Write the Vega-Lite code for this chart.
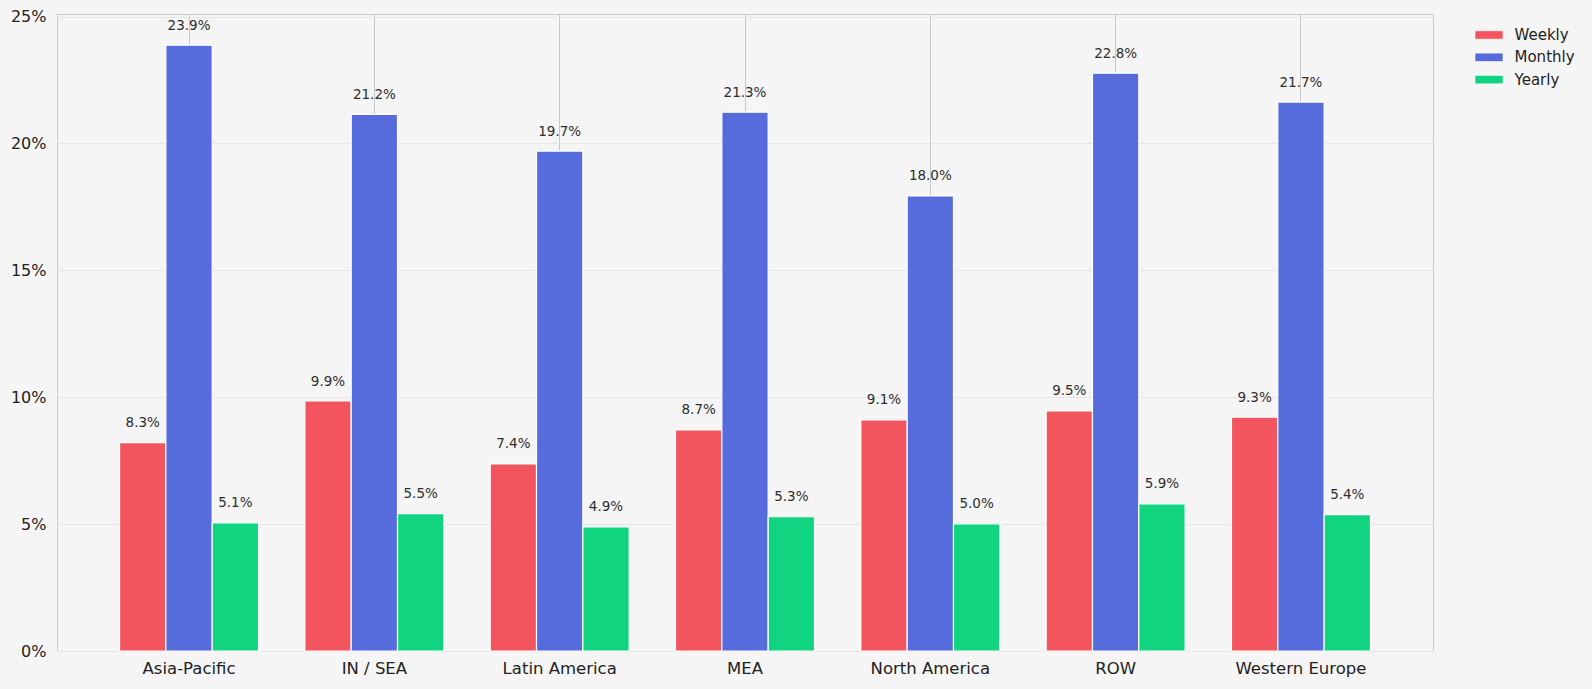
{
  "$schema": "https://vega.github.io/schema/vega-lite/v6.json",
  "width": 1376,
  "height": 637,
  "autosize": "none",
  "padding": {"left": 57, "top": 14, "right": 159, "bottom": 38},
  "background": "#f5f5f5",
  "config": {
    "font": "DejaVu Sans",
    "view": {"stroke": "#cccccc", "strokeWidth": 1}
  },
  "data": {
    "values": [
      {"region": "Asia-Pacific", "plan": "Weekly", "value": 8.21, "label": "8.3%"},
      {"region": "Asia-Pacific", "plan": "Monthly", "value": 23.87, "label": "23.9%"},
      {"region": "Asia-Pacific", "plan": "Yearly", "value": 5.05, "label": "5.1%"},
      {"region": "IN / SEA", "plan": "Weekly", "value": 9.85, "label": "9.9%"},
      {"region": "IN / SEA", "plan": "Monthly", "value": 21.14, "label": "21.2%"},
      {"region": "IN / SEA", "plan": "Yearly", "value": 5.41, "label": "5.5%"},
      {"region": "Latin America", "plan": "Weekly", "value": 7.37, "label": "7.4%"},
      {"region": "Latin America", "plan": "Monthly", "value": 19.7, "label": "19.7%"},
      {"region": "Latin America", "plan": "Yearly", "value": 4.89, "label": "4.9%"},
      {"region": "MEA", "plan": "Weekly", "value": 8.71, "label": "8.7%"},
      {"region": "MEA", "plan": "Monthly", "value": 21.23, "label": "21.3%"},
      {"region": "MEA", "plan": "Yearly", "value": 5.29, "label": "5.3%"},
      {"region": "North America", "plan": "Weekly", "value": 9.11, "label": "9.1%"},
      {"region": "North America", "plan": "Monthly", "value": 17.93, "label": "18.0%"},
      {"region": "North America", "plan": "Yearly", "value": 5.01, "label": "5.0%"},
      {"region": "ROW", "plan": "Weekly", "value": 9.46, "label": "9.5%"},
      {"region": "ROW", "plan": "Monthly", "value": 22.77, "label": "22.8%"},
      {"region": "ROW", "plan": "Yearly", "value": 5.8, "label": "5.9%"},
      {"region": "Western Europe", "plan": "Weekly", "value": 9.21, "label": "9.3%"},
      {"region": "Western Europe", "plan": "Monthly", "value": 21.63, "label": "21.7%"},
      {"region": "Western Europe", "plan": "Yearly", "value": 5.37, "label": "5.4%"}
    ]
  },
  "encoding": {
    "x": {
      "field": "region",
      "type": "nominal",
      "sort": null,
      "scale": {"paddingInner": 0.25, "paddingOuter": 0.3375},
      "axis": {
        "title": null,
        "labelAngle": 0,
        "labelFontSize": 16.5,
        "labelColor": "#222222",
        "labelPadding": 9,
        "ticks": false,
        "domain": false,
        "grid": true,
        "gridColor": "#c8c8c8",
        "gridWidth": 1
      }
    },
    "xOffset": {
      "field": "plan",
      "type": "nominal",
      "sort": ["Weekly", "Monthly", "Yearly"]
    },
    "y": {
      "field": "value",
      "type": "quantitative",
      "scale": {"domain": [0, 25.1], "nice": false},
      "axis": {
        "title": null,
        "values": [0, 5, 10, 15, 20, 25],
        "labelExpr": "datum.value + '%'",
        "labelFontSize": 16,
        "labelColor": "#222222",
        "labelPadding": 11,
        "ticks": false,
        "domain": false,
        "grid": true,
        "gridColor": "#e6e6e6",
        "gridWidth": 1
      }
    }
  },
  "layer": [
    {
      "mark": {"type": "bar", "stroke": "white", "strokeWidth": 1.2},
      "encoding": {
        "color": {
          "field": "plan",
          "type": "nominal",
          "scale": {
            "domain": ["Weekly", "Monthly", "Yearly"],
            "range": ["#f2555e", "#566cdc", "#10d480"]
          },
          "legend": {
            "title": null,
            "orient": "none",
            "legendX": 1424.5,
            "legendY": 13.5,
            "padding": 0,
            "symbolType": "M-2.8,-0.84L2.8,-0.84L2.8,0.84L-2.8,0.84Z",
            "symbolSize": 100,
            "symbolStrokeColor": "white",
            "symbolStrokeWidth": 0.6,
            "symbolOpacity": 1,
            "labelFontSize": 15,
            "labelColor": "#222222",
            "labelOffset": 18,
            "rowPadding": 6.3
          }
        }
      }
    },
    {
      "mark": {
        "type": "text",
        "dy": -15.5,
        "baseline": "alphabetic",
        "fontSize": 13.5,
        "color": "#2e2e2e"
      },
      "encoding": {"text": {"field": "label"}}
    }
  ]
}
